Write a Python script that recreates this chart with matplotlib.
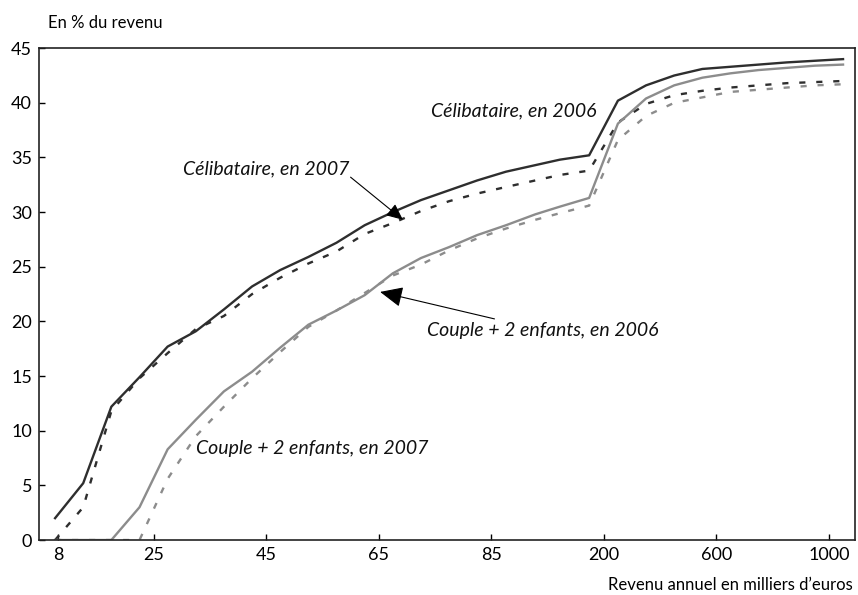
import numpy as np
import matplotlib
matplotlib.use("Agg")
import matplotlib.pyplot as plt

plt.rcParams["font.family"] = ["Lato", "DejaVu Sans"]

# Revenu annuel (milliers d'euros) et taux (% du revenu)
revenu = [7.5, 12.5, 17.5, 22.5, 27.5, 32.5, 37.5, 42.5, 47.5, 52.5,
          57.5, 62.5, 67.5, 72.5, 77.5, 82.5, 100, 130, 155, 185,
          250, 350, 450, 550, 650, 750, 850, 950, 1050]

celib_2006 = [2.0, 5.2, 12.2, 14.9, 17.7, 19.1, 21.1, 23.2, 24.7, 25.9,
              27.2, 28.8, 30.0, 31.1, 32.0, 32.9, 33.7, 34.3, 34.8, 35.2,
              40.2, 41.6, 42.5, 43.1, 43.3, 43.5, 43.7, 43.85, 44.0]
celib_2007 = [0.0, 3.0, 11.8, 14.8, 17.1, 19.3, 20.5, 22.5, 24.0, 25.3,
              26.4, 28.0, 29.0, 30.1, 31.0, 31.7, 32.3, 32.9, 33.4, 33.8,
              38.2, 39.9, 40.7, 41.1, 41.4, 41.6, 41.8, 41.9, 42.0]
couple_2006 = [0.0, 0.0, 0.0, 3.0, 8.3, 11.0, 13.6, 15.4, 17.6, 19.7,
               21.0, 22.4, 24.4, 25.8, 26.8, 27.9, 28.8, 29.8, 30.5, 31.3,
               38.1, 40.4, 41.6, 42.3, 42.7, 43.0, 43.2, 43.4, 43.5]
couple_2007 = [0.0, 0.0, 0.0, 0.0, 5.6, 9.5, 12.2, 14.8, 17.2, 19.5,
               21.0, 22.6, 24.2, 25.2, 26.5, 27.6, 28.5, 29.3, 29.9, 30.6,
               36.6, 38.8, 40.0, 40.5, 41.0, 41.2, 41.4, 41.6, 41.7]

xticks = [8, 25, 45, 65, 85, 200, 600, 1000]
yticks = [0, 5, 10, 15, 20, 25, 30, 35, 40, 45]

# piecewise-linear income axis (each tick interval gets the same width)
BRK_VAL = [0, 85, 200, 1000, 1200]
BRK_POS = [-1.5, 15.5, 19.5, 27.5, 29.5]


def fwd(v):
    return np.interp(v, BRK_VAL, BRK_POS)


def inv(p):
    return np.interp(p, BRK_POS, BRK_VAL)


DARK = "#2e2e2e"
GREY = "#8c8c8c"
LW = 1.7
DASH = (2.6, 4.6)

fig = plt.figure(figsize=(8.58, 5.95), dpi=100)
ax = fig.add_axes([0.0455, 0.0924, 0.9515, 0.8266])
ax.set_xscale("function", functions=(fwd, inv))

ax.plot(revenu, couple_2007, color=GREY, lw=LW, dashes=DASH)
ax.plot(revenu, celib_2007, color=DARK, lw=LW, dashes=DASH)
ax.plot(revenu, couple_2006, color=GREY, lw=LW)
ax.plot(revenu, celib_2006, color=DARK, lw=LW)

ax.set_xlim(4.65, 1094)
ax.set_ylim(0, 45)
ax.set_xticks(xticks)
ax.set_xticklabels([str(t) for t in xticks])
ax.set_yticks(yticks)
ax.minorticks_off()
ax.tick_params(direction="in", length=4, width=1, labelsize=13,
               colors="black", pad=5)
for s in ax.spines.values():
    s.set_linewidth(1.2)
    s.set_color("#222222")

fig.text(0.056, 0.961, "En % du revenu", fontsize=12, ha="left", va="center")
fig.text(0.994, 0.016, "Revenu annuel en milliers d\u2019euros", fontsize=12,
         ha="right", va="center")

txt = dict(fontsize=14, style="italic", color="#111111")
ax.text(inv(19.25), 39.3, "Célibataire, en 2006", ha="right", va="center", **txt)
ax.text(inv(4.55), 34.0, "Célibataire, en 2007", ha="left", va="center", **txt)
ax.text(inv(5.0), 8.4, "Couple + 2 enfants, en 2007", ha="left", va="center", **txt)

arr = dict(arrowstyle="-|>,head_length=1.0,head_width=0.45", color="black",
           lw=0.8, shrinkA=0, shrinkB=0)
ax.annotate("", xy=(inv(12.36), 29.3), xytext=(inv(10.5), 33.2),
            arrowprops=arr)
ax.annotate("Couple + 2 enfants, en 2006", xy=(inv(11.55), 22.7),
            xytext=(inv(13.2), 19.2), ha="left", va="center",
            arrowprops=arr, **txt)

fig.savefig("out.png", dpi=100)
